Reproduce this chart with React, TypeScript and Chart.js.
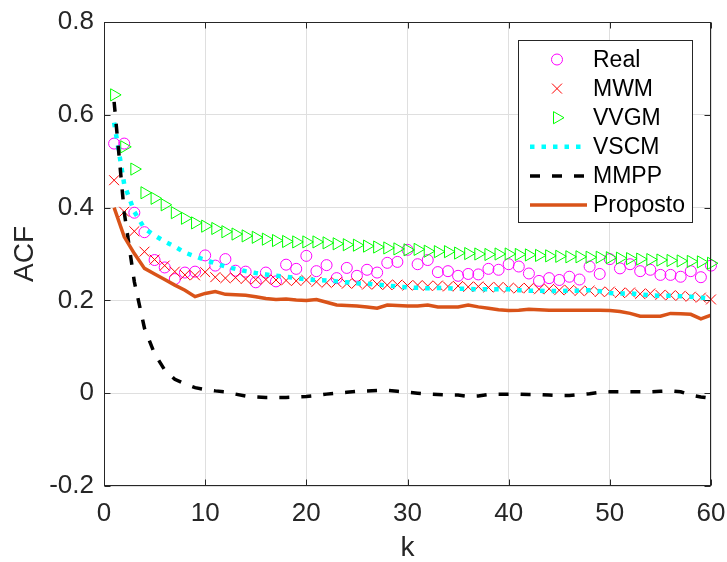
import React, { useEffect, useRef } from 'react';
import { Chart, registerables } from 'chart.js';

Chart.register(...registerables);

// ---------- data ----------
const lags = [
  1, 2, 3, 4, 5, 6, 7, 8, 9, 10,
  11, 12, 13, 14, 15, 16, 17, 18, 19, 20,
  21, 22, 23, 24, 25, 26, 27, 28, 29, 30,
  31, 32, 33, 34, 35, 36, 37, 38, 39, 40,
  41, 42, 43, 44, 45, 46, 47, 48, 49, 50,
  51, 52, 53, 54, 55, 56, 57, 58, 59, 60,
];

const real = [
  0.538, 0.538, 0.389, 0.347, 0.287, 0.271, 0.246, 0.260, 0.262, 0.297,
  0.275, 0.289, 0.264, 0.262, 0.239, 0.260, 0.241, 0.277, 0.268, 0.296,
  0.263, 0.276, 0.248, 0.270, 0.253, 0.266, 0.260, 0.281, 0.283, 0.309,
  0.278, 0.287, 0.261, 0.263, 0.253, 0.257, 0.256, 0.268, 0.266, 0.278,
  0.273, 0.258, 0.242, 0.248, 0.244, 0.251, 0.245, 0.273, 0.257, 0.289,
  0.269, 0.278, 0.263, 0.266, 0.255, 0.255, 0.251, 0.263, 0.250, 0.275,
];

const mwm = [
  0.459, 0.391, 0.349, 0.305, 0.288, 0.275, 0.262, 0.255, 0.254, 0.261,
  0.250, 0.248, 0.249, 0.246, 0.245, 0.245, 0.244, 0.243, 0.242, 0.244,
  0.240, 0.238, 0.239, 0.236, 0.237, 0.234, 0.235, 0.233, 0.234, 0.232,
  0.233, 0.231, 0.232, 0.230, 0.231, 0.229, 0.230, 0.228, 0.229, 0.227,
  0.226, 0.227, 0.224, 0.225, 0.222, 0.223, 0.220, 0.221, 0.218, 0.219,
  0.216, 0.217, 0.214, 0.215, 0.212, 0.211, 0.210, 0.208, 0.206, 0.202,
];

const vvgm = [
  0.643, 0.531, 0.483, 0.432, 0.420, 0.406, 0.389, 0.377, 0.367, 0.360,
  0.355, 0.348, 0.343, 0.339, 0.336, 0.332, 0.329, 0.327, 0.326, 0.326,
  0.326, 0.324, 0.322, 0.320, 0.319, 0.317, 0.315, 0.313, 0.311, 0.309,
  0.310, 0.306, 0.305, 0.305, 0.302, 0.301, 0.300, 0.299, 0.300, 0.300,
  0.299, 0.298, 0.297, 0.296, 0.295, 0.294, 0.294, 0.293, 0.293, 0.292,
  0.291, 0.290, 0.289, 0.288, 0.287, 0.286, 0.285, 0.284, 0.283, 0.280,
];

const vscm = [
  0.583, 0.450, 0.391, 0.355, 0.340, 0.327, 0.316, 0.303, 0.295, 0.287,
  0.280, 0.273, 0.268, 0.263, 0.259, 0.256, 0.253, 0.251, 0.248, 0.245,
  0.244, 0.243, 0.241, 0.239, 0.237, 0.236, 0.234, 0.232, 0.230, 0.228,
  0.227, 0.226, 0.227, 0.226, 0.225, 0.225, 0.224, 0.224, 0.224, 0.224,
  0.222, 0.221, 0.221, 0.220, 0.220, 0.221, 0.221, 0.222, 0.220, 0.216,
  0.215, 0.215, 0.213, 0.211, 0.210, 0.210, 0.209, 0.208, 0.206, 0.204,
];

const mmpp = [
  0.628, 0.390, 0.240, 0.140, 0.085, 0.050, 0.030, 0.020, 0.012, 0.008,
  0.005, 0.003, -0.002, -0.006, -0.008, -0.009, -0.009, -0.009, -0.008, -0.007,
  -0.005, -0.002, 0.000, 0.002, 0.004, 0.005, 0.006, 0.006, 0.004, 0.002,
  0.000, -0.002, -0.003, -0.004, -0.004, -0.007, -0.006, -0.003, -0.002, -0.002,
  -0.002, -0.003, -0.003, -0.004, -0.005, -0.005, -0.003, -0.001, 0.002, 0.003,
  0.003, 0.003, 0.003, 0.003, 0.004, 0.005, 0.003, -0.004, -0.008, -0.011,
];

const proposto = [
  0.400, 0.337, 0.301, 0.269, 0.257, 0.245, 0.233, 0.222, 0.208, 0.215,
  0.219, 0.213, 0.212, 0.211, 0.208, 0.204, 0.202, 0.203, 0.201, 0.200,
  0.202, 0.196, 0.190, 0.189, 0.188, 0.186, 0.183, 0.190, 0.189, 0.188,
  0.188, 0.190, 0.186, 0.186, 0.186, 0.190, 0.186, 0.183, 0.180, 0.178,
  0.179, 0.181, 0.180, 0.179, 0.179, 0.179, 0.179, 0.179, 0.179, 0.178,
  0.176, 0.172, 0.166, 0.166, 0.166, 0.172, 0.171, 0.170, 0.160, 0.168,
];

const xTicks = [0, 10, 20, 30, 40, 50, 60];
const xTickLabels = ['0', '10', '20', '30', '40', '50', '60'];
const yTicks = [-0.2, 0, 0.2, 0.4, 0.6, 0.8];
const yTickLabels = ['-0.2', '0', '0.2', '0.4', '0.6', '0.8'];
const seriesNames = ['Real', 'MWM', 'VVGM', 'VSCM', 'MMPP', 'Proposto'];
const xTitle = 'k';
const yTitle = 'ACF';

// ---------- styles ----------
const FONT = '"Liberation Sans", Arial, Helvetica, sans-serif';
const AXIS = '#262626';
const GRID = '#dfdfdf';

const pts = (vals: number[]) => vals.map((v, i) => ({ x: lags[i], y: v }));

function drawMarker(ctx: CanvasRenderingContext2D, kind: string, x: number, y: number, color: string) {
  ctx.save();
  ctx.strokeStyle = color;
  ctx.lineWidth = 1;
  ctx.setLineDash([]);
  ctx.beginPath();
  if (kind === 'circle') {
    ctx.arc(x, y, 5.5, 0, Math.PI * 2);
  } else if (kind === 'cross') {
    const h = 5;
    ctx.moveTo(x - h, y - h); ctx.lineTo(x + h, y + h);
    ctx.moveTo(x - h, y + h); ctx.lineTo(x + h, y - h);
  } else if (kind === 'tri') {
    const r = 7;
    ctx.moveTo(x + r, y);
    ctx.lineTo(x - r / 2, y - r * 0.866);
    ctx.lineTo(x - r / 2, y + r * 0.866);
    ctx.closePath();
  }
  ctx.stroke();
  ctx.restore();
}

const boxPlugin = {
  id: 'matlabBox',
  afterDatasetsDraw(chart: any) {
    const { ctx, chartArea: a, scales } = chart;
    ctx.save();
    ctx.strokeStyle = AXIS;
    ctx.lineWidth = 1;
    ctx.setLineDash([]);
    const L = Math.round(a.left) + 0.5, R = Math.round(a.right) - 0.5;
    const T = Math.round(a.top) + 0.5, B = Math.round(a.bottom) - 0.5;
    ctx.strokeRect(L, T, R - L, B - T);
    const tl = 6;
    ctx.beginPath();
    xTicks.forEach((v) => {
      const px = Math.round(scales.x.getPixelForValue(v)) + 0.5;
      ctx.moveTo(px, B); ctx.lineTo(px, B - tl);
      ctx.moveTo(px, T); ctx.lineTo(px, T + tl);
    });
    yTicks.forEach((v) => {
      const py = Math.round(scales.y.getPixelForValue(v)) + 0.5;
      ctx.moveTo(L, py); ctx.lineTo(L + tl, py);
      ctx.moveTo(R, py); ctx.lineTo(R - tl, py);
    });
    ctx.stroke();
    ctx.restore();
  },
};

const legendPlugin = {
  id: 'matlabLegend',
  afterDraw(chart: any) {
    const { ctx } = chart;
    const bx = 518, by = 40, bw = 175, bh = 183;
    ctx.save();
    ctx.fillStyle = '#ffffff';
    ctx.fillRect(bx, by, bw, bh);
    ctx.strokeStyle = AXIS;
    ctx.lineWidth = 1;
    ctx.strokeRect(bx + 0.5, by + 0.5, bw - 1, bh - 1);
    const ds = chart.data.datasets;
    seriesNames.forEach((name, i) => {
      const y = by + 19.5 + i * 29.1;
      const d = ds[i];
      const x0 = 530, x1 = 587, xm = 557;
      if (d.showLine === false) {
        drawMarker(ctx, d._marker, xm, y, d.borderColor);
      } else {
        ctx.save();
        ctx.strokeStyle = d.borderColor;
        ctx.lineWidth = d.borderWidth;
        ctx.lineCap = 'butt';
        ctx.setLineDash(d.borderDash || []);
        ctx.beginPath();
        ctx.moveTo(x0, y);
        ctx.lineTo(x1, y);
        ctx.stroke();
        ctx.restore();
      }
      ctx.fillStyle = '#000000';
      ctx.font = `23px ${FONT}`;
      ctx.textBaseline = 'middle';
      ctx.textAlign = 'left';
      ctx.fillText(name, 593, y + 1);
    });
    ctx.restore();
  },
};

export default function App() {
  const ref = useRef<HTMLCanvasElement | null>(null);

  useEffect(() => {
    if (!ref.current) return;
    const chart = new Chart(ref.current, {
      type: 'line',
      data: {
        datasets: [
          {
            label: seriesNames[0], data: pts(real), showLine: false,
            borderColor: '#ff00ff', backgroundColor: 'rgba(0,0,0,0)',
            pointStyle: 'circle', pointRadius: 5.5, pointBorderWidth: 1,
            clip: false, order: 6, _marker: 'circle',
          } as any,
          {
            label: seriesNames[1], data: pts(mwm), showLine: false,
            borderColor: '#ff0000', backgroundColor: 'rgba(0,0,0,0)',
            pointStyle: 'crossRot', pointRadius: 7, pointBorderWidth: 1,
            clip: false, order: 5, _marker: 'cross',
          } as any,
          {
            label: seriesNames[2], data: pts(vvgm), showLine: false,
            borderColor: '#00ff00', backgroundColor: 'rgba(0,0,0,0)',
            pointStyle: 'triangle', pointRotation: 90, pointRadius: 7, pointBorderWidth: 1,
            clip: false, order: 4, _marker: 'tri',
          } as any,
          {
            label: seriesNames[3], data: pts(vscm),
            borderColor: '#00ffff', borderWidth: 4.5, borderDash: [4.5, 7],
            pointRadius: 0, tension: 0, order: 3,
          } as any,
          {
            label: seriesNames[4], data: pts(mmpp),
            borderColor: '#000000', borderWidth: 3.5, borderDash: [10, 12],
            pointRadius: 0, tension: 0, order: 2,
          } as any,
          {
            label: seriesNames[5], data: pts(proposto),
            borderColor: '#d95319', borderWidth: 3.5,
            pointRadius: 0, tension: 0, order: 1,
          } as any,
        ],
      },
      options: {
        animation: false,
        responsive: false,
        devicePixelRatio: 1,
        layout: { padding: { left: 0, right: 16, top: 22, bottom: 0 } },
        plugins: { legend: { display: false }, tooltip: { enabled: false } },
        scales: {
          x: {
            type: 'linear', min: 0, max: 60,
            afterFit: (s: any) => { s.height = 76; s.paddingLeft = 0; s.paddingRight = 0; },
            afterBuildTicks: (s: any) => { s.ticks = xTicks.map((v) => ({ value: v })); },
            grid: { color: GRID, drawTicks: false, lineWidth: 1 },
            border: { display: false },
            ticks: {
              padding: 12, color: AXIS, font: { family: FONT, size: 26 },
              maxRotation: 0, autoSkip: false,
              callback: (_v: any, i: number) => xTickLabels[i],
            },
            title: {
              display: true, text: xTitle, color: AXIS,
              font: { family: FONT, size: 28 }, padding: { top: 0, bottom: -3 },
            },
          },
          y: {
            type: 'linear', min: -0.2, max: 0.8,
            afterFit: (s: any) => { s.width = 104; s.paddingTop = 0; s.paddingBottom = 0; },
            afterBuildTicks: (s: any) => { s.ticks = yTicks.map((v) => ({ value: v })); },
            grid: { color: GRID, drawTicks: false, lineWidth: 1 },
            border: { display: false },
            ticks: {
              padding: 10, color: AXIS, font: { family: FONT, size: 26 },
              autoSkip: false,
              callback: (_v: any, i: number) => yTickLabels[i],
            },
            title: {
              display: true, text: yTitle, color: AXIS,
              font: { family: FONT, size: 28 }, padding: { top: 8, bottom: 0 },
            },
          },
        },
      } as any,
      plugins: [boxPlugin, legendPlugin],
    });
    return () => chart.destroy();
  }, []);

  return (
    <div style={{ position: 'absolute', left: 0, top: 0, width: 727, height: 562, background: '#fff' }}>
      <canvas ref={ref} width={727} height={562} style={{ width: 727, height: 562, display: 'block' }} />
    </div>
  );
}
